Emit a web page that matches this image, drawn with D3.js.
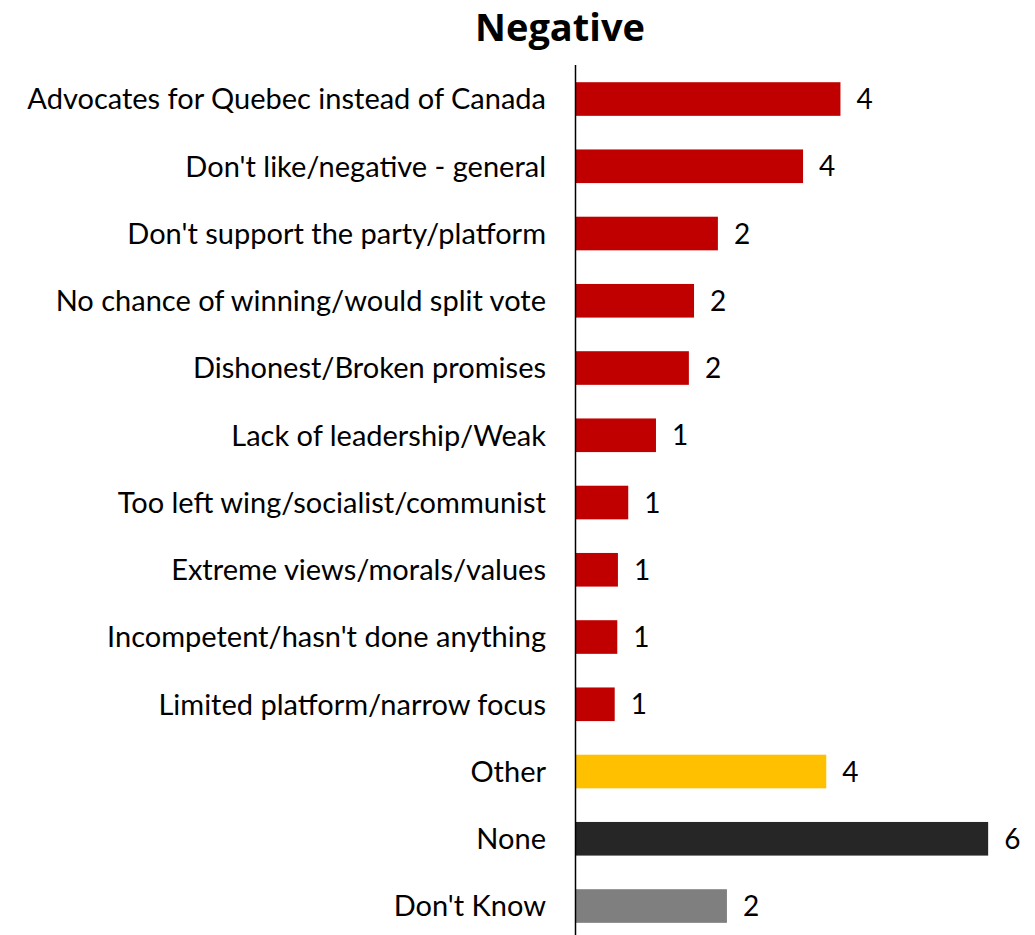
<!DOCTYPE html>
<html>
<head>
<meta charset="utf-8">
<script src="https://cdn.jsdelivr.net/npm/d3@7"></script>
<style>
  body { margin: 0; background: #fff; }
  text { font-family: Lato, "Open Sans", sans-serif; }
</style>
</head>
<body>
<div class="chart"></div>
<script>
var categories = [
  "Advocates for Quebec instead of Canada",
  "Don't like/negative - general",
  "Don't support the party/platform",
  "No chance of winning/would split vote",
  "Dishonest/Broken promises",
  "Lack of leadership/Weak",
  "Too left wing/socialist/communist",
  "Extreme views/morals/values",
  "Incompetent/hasn't done anything",
  "Limited platform/narrow focus",
  "Other",
  "None",
  "Don't Know"
];
var values = [4.1, 3.52, 2.2, 1.83, 1.75, 1.24, 0.81, 0.65, 0.64, 0.6, 3.88, 6.39, 2.34];
var groups = ["neg", "neg", "neg", "neg", "neg", "neg", "neg", "neg", "neg", "neg", "other", "none", "dk"];
var groupColors = { neg: "#C00000", other: "#FFC000", none: "#262626", dk: "#7F7F7F" };
var title = "Negative";

var width = 1035, height = 935;
var x0 = 576;

var data = categories.map(function(c, i) {
  return { name: c, value: values[i], group: groups[i] };
});

var svg = d3.select(".chart")
            .append("svg")
            .attr("width", width)
            .attr("height", height);

var xScale = d3.scaleLinear()
               .domain([0, 1])
               .range([x0, x0 + 64.5]);

var yScale = d3.scaleBand()
               .domain(categories)
               .range([65.4, 65.4 + 13 * 67.25])
               .paddingInner(0.5)
               .paddingOuter(0.25);

svg.append("text")
   .text(title)
   .attr("x", 560)
   .attr("y", 41)
   .attr("text-anchor", "middle")
   .style("font-family", "'Open Sans', sans-serif")
   .style("font-size", "38px")
   .style("font-weight", "bold")
   .attr("fill", "#000");

svg.selectAll("rect.bar")
   .data(data)
   .enter()
   .append("rect")
   .attr("class", "bar")
   .attr("x", xScale(0))
   .attr("y", function(d) { return yScale(d.name); })
   .attr("width", function(d) { return xScale(d.value) - xScale(0); })
   .attr("height", yScale.bandwidth())
   .attr("fill", function(d) { return groupColors[d.group]; });

svg.selectAll("text.val")
   .data(data)
   .enter()
   .append("text")
   .attr("class", "val")
   .text(function(d) { return Math.round(d.value); })
   .attr("x", function(d) { return xScale(d.value) + 16; })
   .attr("y", function(d) { return yScale(d.name) + yScale.bandwidth() / 2; })
   .attr("dy", "0.36em")
   .attr("font-size", "28px")
   .attr("fill", "#000");

var yAxis = d3.axisLeft(yScale).tickSize(0).tickPadding(30);

var ax = svg.append("g")
            .attr("transform", "translate(" + x0 + ",0)")
            .call(yAxis);

ax.select(".domain").remove();
ax.selectAll("text")
  .attr("font-size", "29px")
  .attr("fill", "#000")
  .attr("dy", "0.36em");

svg.append("line")
   .attr("x1", x0 - 0.5)
   .attr("x2", x0 - 0.5)
   .attr("y1", 65)
   .attr("y2", height)
   .attr("stroke", "#000")
   .attr("stroke-width", 1.5);
</script>
</body>
</html>
